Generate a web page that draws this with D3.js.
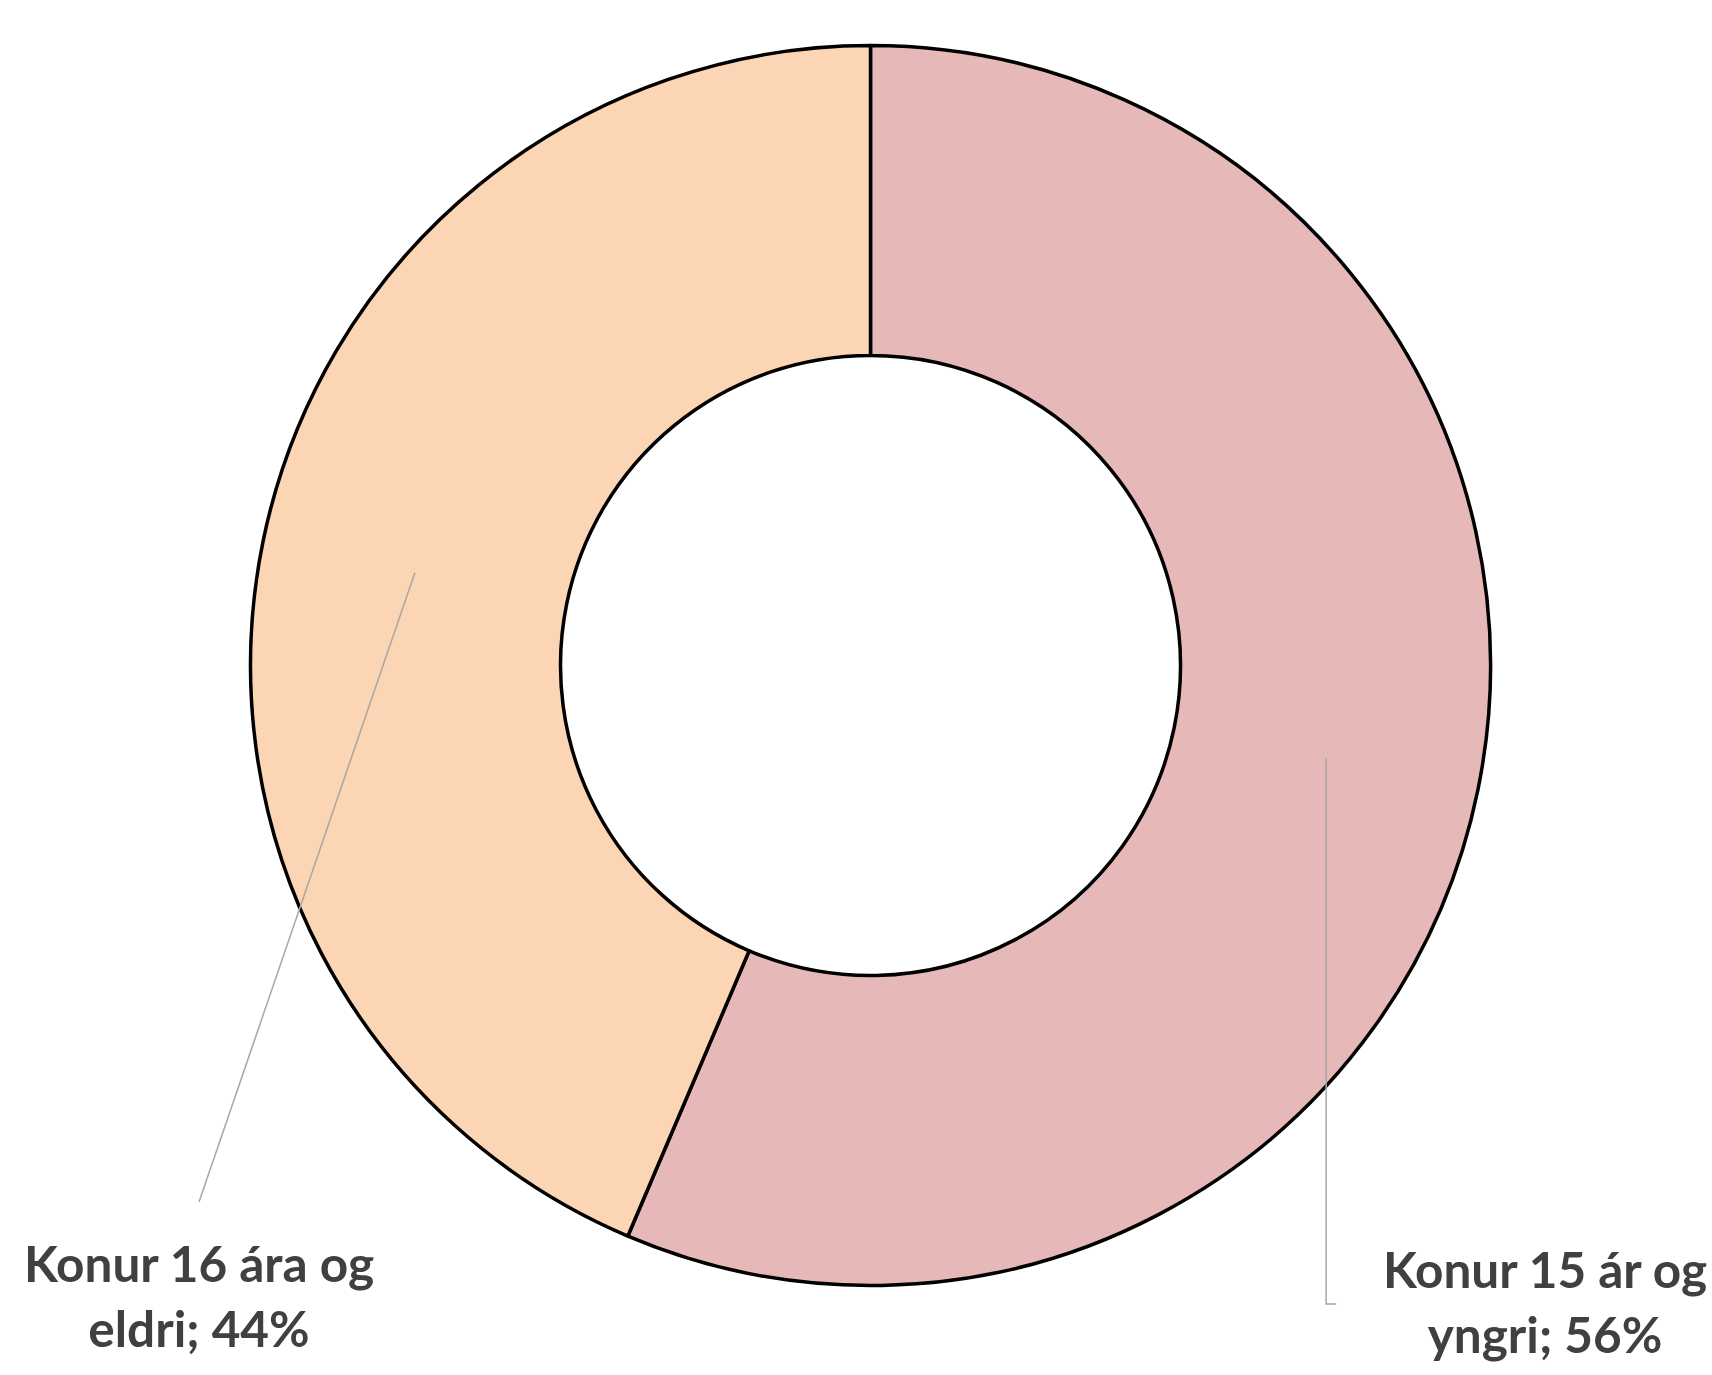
<!DOCTYPE html>
<html>
<head>
<meta charset="utf-8">
<script src="https://cdn.jsdelivr.net/npm/d3@7"></script>
<style>
  body { margin: 0; background: #fff; }
  svg { display: block; }
</style>
</head>
<body>
<div id="chart"></div>
<script>
// data
const categories = ["Konur 15 ár og yngri", "Konur 16 ára og eldri"];
const values = [56.4, 43.6];
const labelLines = [["Konur 15 ár og", "yngri; 56%"], ["Konur 16 ára og", "eldri; 44%"]];
const colors = ["#e6b8b7", "#fcd5b5"];

const width = 1712, height = 1375;
const cx = 870.5, cy = 665.5;
const outerR = 620, innerR = 310;

const svg = d3.select("#chart").append("svg")
    .attr("width", width)
    .attr("height", height);

const g = svg.append("g").attr("transform", `translate(${cx},${cy})`);

const pie = d3.pie().sort(null).value(d => d.value);
const arc = d3.arc().innerRadius(innerR).outerRadius(outerR);
const arcs = pie(categories.map((c, i) => ({name: c, value: values[i]})));

g.selectAll("path.slice")
    .data(arcs)
    .join("path")
    .attr("class", "slice")
    .attr("d", arc)
    .attr("fill", (d, i) => colors[i])
    .attr("stroke", "#000")
    .attr("stroke-width", 3.5)
    .attr("stroke-linejoin", "round");

// leader lines from slice centroids to labels
const labelPos = [
    {x: 1545, y: 1288, line: c => [[c[0], c[1]], [c[0], 1304 - cy], [c[0] + 10, 1304 - cy]]},
    {x: 199, y: 1282, line: c => [[c[0], c[1]], [199 - cx, 1202 - cy]]}
];

arcs.forEach((d, i) => {
    const c = arc.centroid(d);
    const pts = labelPos[i].line(c);
    g.append("path")
        .attr("d", d3.line()(pts))
        .attr("fill", "none")
        .attr("stroke", "#a6a6a6")
        .attr("stroke-width", 1.5);
});

arcs.forEach((d, i) => {
    const t = svg.append("text")
        .attr("x", labelPos[i].x)
        .attr("y", labelPos[i].y)
        .attr("text-anchor", "middle")
        .attr("font-family", "Lato, 'Open Sans', sans-serif")
        .attr("font-weight", "bold")
        .attr("font-size", 49.5)
        .attr("fill", "#404040");
    labelLines[i].forEach((ln, j) => {
        t.append("tspan")
            .attr("x", labelPos[i].x)
            .attr("dy", j === 0 ? 0 : 65)
            .text(ln);
    });
});
</script>
</body>
</html>
